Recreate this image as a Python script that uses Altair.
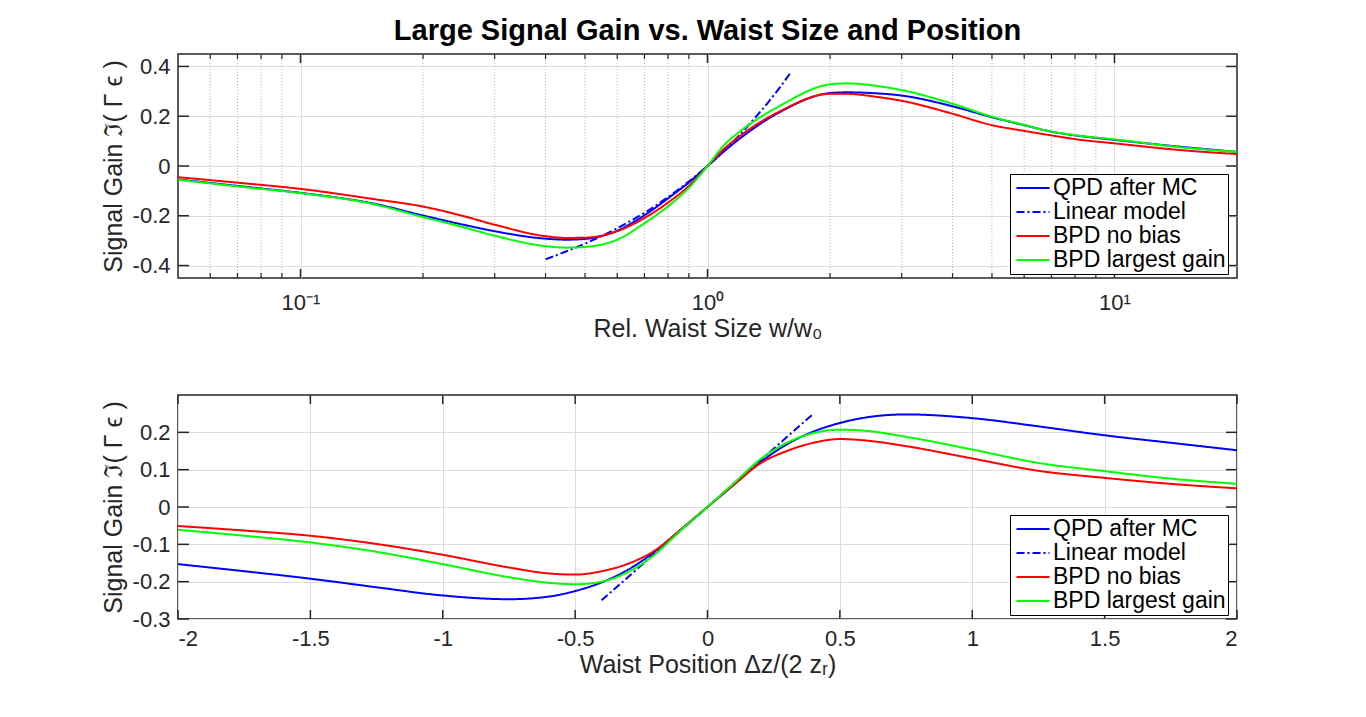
import altair as alt
import pandas as pd

# ---------------- data ----------------
series_names = ["QPD after MC", "Linear model", "BPD no bias", "BPD largest gain"]
series_colors = ["#0000ff", "#0000ff", "#ff0000", "#00ff00"]
series_dash = [[1, 0], [8, 3, 2, 3], [1, 0], [1, 0]]

# Top panel: relative waist size (log axis)
size_x = [0.05, 0.07, 0.1, 0.15, 0.2, 0.25, 0.3, 0.4, 0.45, 0.5, 0.6, 0.7, 0.8, 0.9, 1.0,
          1.1, 1.2, 1.5, 2.0, 2.2, 2.6, 3.0, 4.0, 5.0, 6.0, 7.0, 8.0, 10.0, 15.0, 20.0]
size_qpd = [-0.054, -0.080, -0.108, -0.150, -0.199, -0.235, -0.262, -0.292, -0.296, -0.293,
            -0.260, -0.198, -0.130, -0.066, 0.0, 0.060, 0.110, 0.215, 0.293, 0.296, 0.292,
            0.283, 0.240, 0.196, 0.164, 0.138, 0.123, 0.105, 0.075, 0.057]
size_bpd_nobias = [-0.045, -0.067, -0.092, -0.132, -0.163, -0.200, -0.236, -0.282, -0.289, -0.288,
                   -0.262, -0.209, -0.147, -0.080, 0.0, 0.070, 0.120, 0.218, 0.290, 0.290, 0.278,
                   0.262, 0.210, 0.164, 0.141, 0.123, 0.108, 0.091, 0.062, 0.048]
size_bpd_best = [-0.055, -0.082, -0.109, -0.152, -0.205, -0.245, -0.280, -0.322, -0.328, -0.325,
                 -0.296, -0.230, -0.162, -0.088, 0.0, 0.085, 0.138, 0.240, 0.328, 0.332, 0.322,
                 0.305, 0.250, 0.198, 0.165, 0.138, 0.124, 0.107, 0.073, 0.057]
size_lin_x = [0.4, 0.5, 0.6, 0.7, 0.8, 0.9, 1.0, 1.1, 1.2, 1.3, 1.4, 1.5, 1.6]
size_lin_y = [-0.375, -0.312, -0.250, -0.188, -0.125, -0.062, 0.0, 0.062, 0.125, 0.188,
              0.250, 0.312, 0.375]

# Bottom panel: waist position
pos_x = [-2.0, -1.75, -1.5, -1.25, -1.0, -0.75, -0.6, -0.5, -0.4, -0.3, -0.2, -0.1, 0.0,
         0.1, 0.2, 0.3, 0.4, 0.5, 0.6, 0.75, 1.0, 1.25, 1.5, 1.75, 2.0]
pos_qpd = [-0.153, -0.172, -0.192, -0.215, -0.237, -0.247, -0.240, -0.225, -0.202, -0.168,
           -0.120, -0.060, 0.0, 0.060, 0.120, 0.168, 0.202, 0.225, 0.240, 0.248, 0.238,
           0.216, 0.192, 0.172, 0.152]
pos_bpd_nobias = [-0.051, -0.063, -0.077, -0.099, -0.128, -0.162, -0.178, -0.181, -0.172, -0.152,
                  -0.117, -0.060, 0.0, 0.060, 0.117, 0.150, 0.172, 0.182, 0.178, 0.163, 0.130,
                  0.097, 0.078, 0.062, 0.050]
pos_bpd_best = [-0.061, -0.077, -0.095, -0.120, -0.153, -0.188, -0.203, -0.207, -0.200, -0.174,
                -0.128, -0.062, 0.0, 0.064, 0.128, 0.172, 0.198, 0.207, 0.204, 0.188, 0.154,
                0.118, 0.096, 0.076, 0.062]
pos_lin_x = [-0.4, 0.4]
pos_lin_y = [-0.25, 0.25]

# axis ticks
size_major = [0.1, 1, 10]
size_minor = [0.06, 0.07, 0.08, 0.09, 0.2, 0.3, 0.4, 0.5, 0.6, 0.7, 0.8, 0.9,
              2, 3, 4, 5, 6, 7, 8, 9]
size_yticks = [-0.4, -0.2, 0, 0.2, 0.4]
pos_xticks = [-2, -1.5, -1, -0.5, 0, 0.5, 1, 1.5, 2]
pos_yticks = [-0.3, -0.2, -0.1, 0, 0.1, 0.2]

# ---------------- styling ----------------
FONT = "Liberation Sans"
W, H = 1059, 224
FRAME = "#262626"


def long_df(xs_list, ys_list):
    rows = []
    for name, xs, ys in zip(series_names, xs_list, ys_list):
        for i, (a, b) in enumerate(zip(xs, ys)):
            rows.append({"x": a, "y": b, "series": name, "order": i})
    return pd.DataFrame(rows)


def panel(df, xscale, yscale, xaxis, yaxis, xticks_major, xticks_minor, yticks, minor_grid):
    leg = alt.Legend(orient="none", legendX=832, legendY=120, title=None)
    color = alt.Color("series:N",
                      scale=alt.Scale(domain=series_names, range=series_colors), legend=leg)
    dash = alt.StrokeDash("series:N",
                          scale=alt.Scale(domain=series_names, range=series_dash), legend=leg)
    X = lambda: alt.X("x:Q", scale=xscale, axis=xaxis)
    Y = lambda: alt.Y("y:Q", scale=yscale, axis=yaxis)
    layers = []
    lines = alt.Chart(df).mark_line(strokeWidth=2, clip=True, interpolate="monotone").encode(
        x=X(), y=Y(), color=color, strokeDash=dash, order="order:Q", detail="series:N")
    if minor_grid:
        mg = alt.Chart(pd.DataFrame({"x": xticks_minor})).mark_rule(
            color="#b4b4b4", strokeWidth=1, strokeDash=[1, 2]).encode(
            x=X(), y=alt.value(0), y2=alt.value(H))
        layers.append(mg)
    layers.append(lines)
    # inward ticks on all four sides
    xmaj = alt.Chart(pd.DataFrame({"x": xticks_major}))
    layers += [
        xmaj.mark_rule(color=FRAME, strokeWidth=1.5).encode(x=X(), y=alt.value(0), y2=alt.value(9)),
        xmaj.mark_rule(color=FRAME, strokeWidth=1.5).encode(x=X(), y=alt.value(H - 9), y2=alt.value(H)),
    ]
    if xticks_minor:
        xmin = alt.Chart(pd.DataFrame({"x": xticks_minor}))
        layers += [
            xmin.mark_rule(color=FRAME, strokeWidth=1.2).encode(x=X(), y=alt.value(0), y2=alt.value(5)),
            xmin.mark_rule(color=FRAME, strokeWidth=1.2).encode(x=X(), y=alt.value(H - 5), y2=alt.value(H)),
        ]
    yt = alt.Chart(pd.DataFrame({"y": yticks}))
    layers += [
        yt.mark_rule(color=FRAME, strokeWidth=1.5).encode(y=Y(), x=alt.value(0), x2=alt.value(11)),
        yt.mark_rule(color=FRAME, strokeWidth=1.5).encode(y=Y(), x=alt.value(W - 11), x2=alt.value(W)),
    ]
    return alt.layer(*layers).properties(width=W, height=H)


axis_common = dict(labelFont=FONT, labelFontSize=22, labelColor="#262626",
                   titleFont=FONT, titleFontSize=25, titleColor="#262626", titleFontWeight="normal",
                   grid=True, gridColor="#dcdcdc", gridWidth=1, ticks=False, tickSize=0,
                   domain=False)

# ----- top panel -----
df_top = long_df([size_x, size_lin_x, size_x, size_x],
                 [size_qpd, size_lin_y, size_bpd_nobias, size_bpd_best])
top_xscale = alt.Scale(type="log", domain=[0.05, 20], nice=False)
top_yscale = alt.Scale(domain=[-0.45, 0.45], nice=False, zero=False)
top_xaxis = alt.Axis(values=size_major, title="Rel. Waist Size w/w₀",
                     labelExpr="datum.value < 0.5 ? '10⁻¹' : (datum.value < 5 ? '10⁰' : '10¹')",
                     labelPadding=14, titlePadding=3, **axis_common)
top_yaxis = alt.Axis(values=size_yticks, title="Signal Gain ℑ( Γ ϵ )",
                     labelExpr="datum.value + ''", labelPadding=8, titlePadding=6,
                     **axis_common)
top = panel(df_top, top_xscale, top_yscale, top_xaxis, top_yaxis,
            size_major, size_minor, size_yticks, True).properties(
    title=alt.TitleParams("Large Signal Gain vs. Waist Size and Position", font=FONT,
                          fontSize=29, fontWeight="bold", color="#000000",
                          anchor="middle", offset=7))

# ----- bottom panel -----
df_bot = long_df([pos_x, pos_lin_x, pos_x, pos_x],
                 [pos_qpd, pos_lin_y, pos_bpd_nobias, pos_bpd_best])
bot_xscale = alt.Scale(domain=[-2, 2], nice=False, zero=False)
bot_yscale = alt.Scale(domain=[-0.3, 0.3], nice=False, zero=False)
bot_xaxis = alt.Axis(values=pos_xticks, title="Waist Position Δz/(2 zᵣ)",
                     labelExpr="datum.value + ''", labelPadding=9, titlePadding=3,
                     **axis_common)
bot_yaxis = alt.Axis(values=pos_yticks, title="Signal Gain ℑ( Γ ϵ )",
                     labelExpr="datum.value + ''", labelPadding=8, titlePadding=6,
                     **axis_common)
bottom = panel(df_bot, bot_xscale, bot_yscale, bot_xaxis, bot_yaxis,
               pos_xticks, [], pos_yticks, False)

chart = alt.vconcat(top, bottom, spacing=51).resolve_scale(
    color="independent", strokeDash="independent", x="independent", y="independent"
).properties(
    padding={"left": 92, "top": 8, "right": 5, "bottom": 5},
    background="white"
).configure_view(
    stroke=FRAME, strokeWidth=1.5
).configure_legend(
    labelFont=FONT, labelFontSize=23, labelColor="#000000",
    strokeColor="#000000", fillColor="#ffffff", padding=2, cornerRadius=0,
    symbolType="M-1.5,0H1.5", symbolSize=484, symbolStrokeWidth=2,
    symbolOffset=9, labelOffset=8, rowPadding=0, labelLimit=400
)

chart.save("out.html", embed_options={"renderer": "svg", "actions": False})
